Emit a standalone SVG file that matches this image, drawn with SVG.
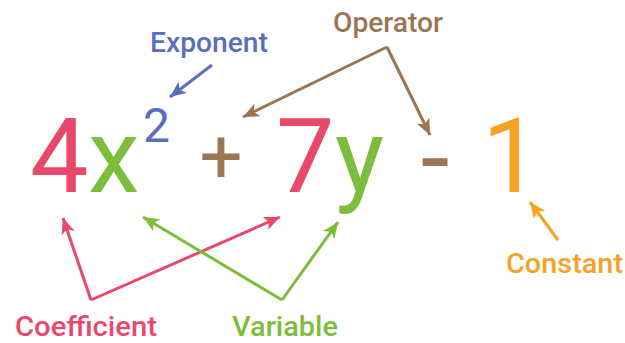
<svg xmlns="http://www.w3.org/2000/svg" width="625" height="343" viewBox="0 0 625 343">
<style>
.big{font-family:Roboto,"Liberation Sans",sans-serif;font-size:104px;font-weight:400}
.lbl{font-family:Roboto,"Liberation Sans",sans-serif;font-size:28px;font-weight:500}
.ln{fill:none;stroke-width:3;stroke-linecap:butt}
</style>
<defs>
<marker id="mBlue" markerUnits="userSpaceOnUse" markerWidth="20" markerHeight="20" refX="16" refY="7" orient="auto"><path d="M0,0 L16,7 L0,14 L4,7 Z" fill="#5a6ebf"/></marker>
<marker id="mBrown" markerUnits="userSpaceOnUse" markerWidth="20" markerHeight="20" refX="16" refY="7" orient="auto"><path d="M0,0 L16,7 L0,14 L4,7 Z" fill="#9b7652"/></marker>
<marker id="mRed" markerUnits="userSpaceOnUse" markerWidth="20" markerHeight="20" refX="16" refY="7" orient="auto"><path d="M0,0 L16,7 L0,14 L4,7 Z" fill="#e8496a"/></marker>
<marker id="mGreen" markerUnits="userSpaceOnUse" markerWidth="20" markerHeight="20" refX="16" refY="7" orient="auto"><path d="M0,0 L16,7 L0,14 L4,7 Z" fill="#7dbd3c"/></marker>
<marker id="mOrange" markerUnits="userSpaceOnUse" markerWidth="20" markerHeight="20" refX="16" refY="7" orient="auto"><path d="M0,0 L16,7 L0,14 L4,7 Z" fill="#f5a225"/></marker>
</defs>
<rect width="625" height="343" fill="#ffffff"/>
<g id="expression">
<text class="big" x="30" y="192" fill="#e8496a">4</text>
<text class="big" x="88" y="192" fill="#7dbd3c">x</text>
<text class="big" x="143" y="142" fill="#5a6ebf" style="font-size:48px">2</text>
<text class="big" x="221" y="183" fill="#9b7652" text-anchor="middle" style="font-size:76px">+</text>
<text class="big" x="276" y="192" fill="#e8496a">7</text>
<text class="big" x="335" y="192" fill="#7dbd3c">y</text>
<text class="big" x="435" y="194" fill="#9b7652" text-anchor="middle">-</text>
<text class="big" x="482" y="192" fill="#f5a225">1</text>
</g>
<g id="exponent"><text class="lbl" x="150" y="52" fill="#5a6ebf" textLength="118" lengthAdjust="spacingAndGlyphs">Exponent</text></g>
<g id="operator"><text class="lbl" x="333" y="32" fill="#9b7652" textLength="110" lengthAdjust="spacingAndGlyphs">Operator</text></g>
<g id="coefficient"><text class="lbl" x="15" y="336" fill="#e8496a" textLength="142" lengthAdjust="spacingAndGlyphs">Coefficient</text></g>
<g id="variable"><text class="lbl" x="232" y="336" fill="#7dbd3c" textLength="106" lengthAdjust="spacingAndGlyphs">Variable</text></g>
<g id="constant"><text class="lbl" x="506" y="273" fill="#f5a225" textLength="117" lengthAdjust="spacingAndGlyphs">Constant</text></g>
<g id="connectors">
<line class="ln" stroke="#5a6ebf" x1="212" y1="65" x2="170" y2="97" marker-end="url(#mBlue)"/>
<line class="ln" stroke="#9b7652" x1="387" y1="47" x2="243" y2="117" marker-end="url(#mBrown)"/>
<line class="ln" stroke="#9b7652" x1="387" y1="47" x2="430" y2="135" marker-end="url(#mBrown)"/>
<line class="ln" stroke="#e8496a" x1="91" y1="300" x2="63" y2="218" marker-end="url(#mRed)"/>
<line class="ln" stroke="#e8496a" x1="91" y1="300" x2="280" y2="217" marker-end="url(#mRed)"/>
<line class="ln" stroke="#7dbd3c" x1="282" y1="300" x2="143" y2="217" marker-end="url(#mGreen)"/>
<line class="ln" stroke="#7dbd3c" x1="282" y1="300" x2="338" y2="222" marker-end="url(#mGreen)"/>
<line class="ln" stroke="#f5a225" x1="558" y1="240" x2="530" y2="202" marker-end="url(#mOrange)"/>
</g>
</svg>
